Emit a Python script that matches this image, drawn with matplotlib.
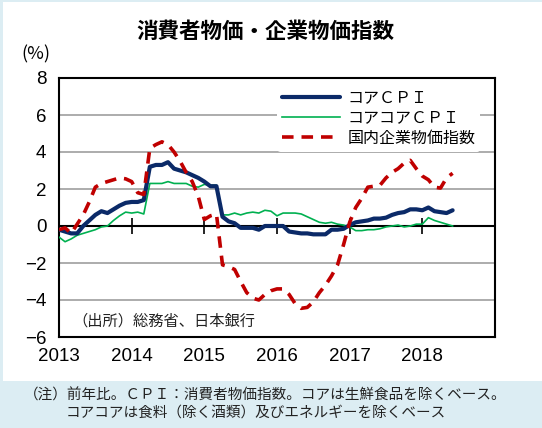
import numpy as np
import matplotlib.pyplot as plt
from matplotlib.patches import Rectangle

# monthly data, Jan 2013 - Jun 2018 (前年比, %)
start_year = 2013
core_cpi = [-0.2, -0.3, -0.4, -0.4, 0.0, 0.3, 0.6, 0.8, 0.7, 0.9, 1.1, 1.25,
            1.3, 1.3, 1.4, 3.2, 3.3, 3.3, 3.45, 3.1, 3.0, 2.9, 2.75, 2.6,
            2.4, 2.15, 2.15, 0.5, 0.25, 0.15, -0.1, -0.1, -0.1, -0.2, 0.0, 0.0,
            0.0, 0.0, -0.3, -0.35, -0.4, -0.4, -0.45, -0.45, -0.45, -0.2, -0.2, -0.15,
            0.05, 0.2, 0.25, 0.3, 0.4, 0.4, 0.45, 0.6, 0.7, 0.75, 0.9, 0.9,
            0.85, 1.0, 0.8, 0.75, 0.7, 0.85]
corecore_cpi = [-0.6, -0.85, -0.7, -0.5, -0.4, -0.3, -0.2, -0.05, 0.0, 0.3, 0.55, 0.75,
                0.7, 0.75, 0.65, 2.3, 2.3, 2.3, 2.4, 2.3, 2.3, 2.3, 2.15, 2.1,
                2.25, 2.2, 2.2, 0.6, 0.6, 0.7, 0.6, 0.7, 0.75, 0.7, 0.85, 0.8,
                0.55, 0.7, 0.7, 0.7, 0.65, 0.5, 0.35, 0.2, 0.15, 0.2, 0.1, 0.05,
                -0.05, -0.25, -0.25, -0.2, -0.2, -0.15, -0.05, 0.0, 0.05, -0.05, 0.0, 0.1,
                0.1, 0.45, 0.3, 0.2, 0.1, 0.0]
cgpi = [-0.2, -0.1, -0.4, 0.1, 0.6, 1.3, 2.1, 2.3, 2.4, 2.5, 2.6, 2.55,
        2.4, 1.8, 1.7, 4.2, 4.4, 4.55, 4.4, 4.0, 3.5, 2.9, 2.4, 1.6,
        0.35, 0.55, 0.65, -2.1, -2.2, -2.35, -3.0, -3.6, -3.9, -4.0, -3.7, -3.5,
        -3.4, -3.4, -3.7, -4.2, -4.45, -4.4, -4.1, -3.6, -3.2, -2.7, -2.1, -1.0,
        0.2, 1.0, 1.5, 2.1, 2.15, 2.2, 2.6, 2.9, 3.1, 3.4, 3.55, 3.1,
        2.7, 2.5, 2.1, 2.05, 2.6, 2.85]

series_names = ['コアＣＰＩ', 'コアコアＣＰＩ', '国内企業物価指数']
years = [2013, 2014, 2015, 2016, 2017, 2018]
yticks = [-6, -4, -2, 0, 2, 4, 6, 8]

x = start_year + np.arange(len(core_cpi)) / 12

jp = ['Noto Sans CJK JP', 'DejaVu Sans']
num = ['Liberation Sans Narrow', 'Liberation Sans', 'DejaVu Sans']
plt.rcParams['font.family'] = jp

bg = '#dcedf3'
fig = plt.figure(figsize=(5.42, 4.28), dpi=100, facecolor=bg)
# white panel behind everything
panel = Rectangle((3/542, 1-381/428), 1-3/542, 379/428,
                  transform=fig.transFigure, facecolor='white',
                  edgecolor='none', zorder=-10)
fig.add_artist(panel)

ax = fig.add_axes([59/542, 1-337/428, 436/542, 259/428])
ax.set_facecolor('white')
ax.set_zorder(1)
ax.set_xlim(2013, 2019)
ax.set_ylim(-6, 8)

# grid
for v in yticks:
    if v != 0:
        ax.axhline(v, color='#a6a6a6', lw=1.3, zorder=1)
ax.axhline(0, color='black', lw=1.5, zorder=2)
ax.plot(years[1:], [0]*len(years[1:]), ls='none', marker='|', ms=11,
        mew=1.2, color='black', zorder=2)

ax.plot(x, core_cpi, color='#0b2a68', lw=3.0, label=series_names[0], zorder=4,
        solid_capstyle='round', solid_joinstyle='round')
ax.plot(x, corecore_cpi, color='#00b050', lw=1.2, label=series_names[1], zorder=3)
ax.plot(x, cgpi, color='#c00000', lw=2.6, ls=(0, (3.2, 2.2)), label=series_names[2],
        zorder=5)

for s in ax.spines.values():
    s.set_linewidth(1.5)
    s.set_color('black')

ax.set_xticks(years)
ax.set_xticklabels([str(y) for y in years], fontfamily=num, fontsize=13.5)
ax.set_yticks(yticks)
ax.set_yticklabels([str(v).replace('-', '\u2212') for v in yticks],
                   fontfamily=num, fontsize=13.5)
ax.tick_params(length=0, pad=9)
ax.tick_params(axis='x', pad=8)

leg = ax.legend(loc='upper right', bbox_to_anchor=(0.985, 1.005), frameon=True,
                fontsize=11.5, handlelength=3.6, handletextpad=0.5,
                labelspacing=0.2, borderpad=0.3)
leg.get_frame().set_edgecolor('none')
leg.get_frame().set_facecolor('white')
leg.get_frame().set_alpha(1)

ax.text(0.03, 0.06, '（出所）総務省、日本銀行', transform=ax.transAxes,
        fontsize=11, va='center', ha='left', color='#222222')

fig.text(36/542, 1-54/428, '(%)', fontsize=13, va='center', ha='center')
fig.text(265/542, 1-31/428, '消費者物価・企業物価指数', fontsize=15.5,
         fontweight='bold', ha='center', va='center')
fig.text(24/542, 1-395/428,
         '（注）前年比。ＣＰＩ：消費者物価指数。コアは生鮮食品を除くベース。',
         fontsize=10.5, ha='left', va='center', color='#222222')
fig.text(66/542, 1-413/428,
         'コアコアは食料（除く酒類）及びエネルギーを除くベース',
         fontsize=10.5, ha='left', va='center', color='#222222')

fig.savefig('out.png', dpi=100, facecolor=bg)
